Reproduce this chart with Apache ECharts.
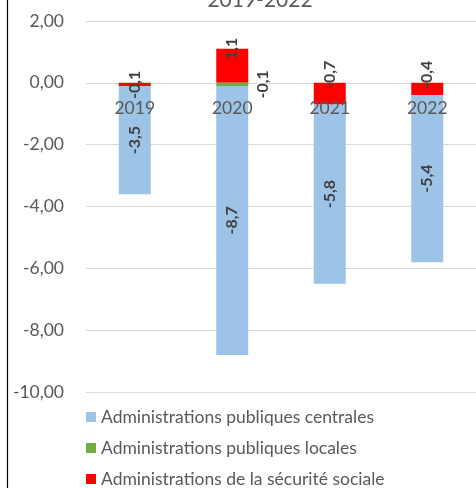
<!DOCTYPE html>
<html>
<head>
<meta charset="utf-8">
<script src="https://cdn.jsdelivr.net/npm/echarts@6/dist/echarts.min.js"></script>
<style>
html,body{margin:0;padding:0;background:#fff;}
#chart{width:476px;height:488px;}
</style>
</head>
<body>
<div id="chart"></div>
<script>
var title = '2019-2022';
var categories = ['2019', '2020', '2021', '2022'];
var seriesNames = ['Administrations publiques centrales', 'Administrations publiques locales', 'Administrations de la sécurité sociale'];
var centrales = [-3.5, -8.7, -5.8, -5.4];
var locales = [null, -0.1, null, null];
var securite = [-0.1, 1.1, -0.7, -0.4];
var yTicks = [-10, -8, -6, -4, -2, 0, 2];

var FONT = 'Lato, "Open Sans", sans-serif';
function fmt(v){ return v.toFixed(1).replace('.', ','); }

var GRID_TOP = 21, GRID_H = 371;
var yMin = yTicks[0], yMax = yTicks[yTicks.length-1];
// distance from grid bottom up to the zero line, so category labels sit under the zero line
var zeroFromBottom = GRID_H * (0 - yMin) / (yMax - yMin);

var chart = echarts.init(document.getElementById('chart'), null, {renderer:'canvas'});

var redDistance = [-2, 0, 8, 8];
var securiteData = securite.map(function(v, i){
  return {value: v, label: {distance: redDistance[i]}};
});

var labelBase = {fontFamily: FONT, fontSize: 16, fontWeight: 'bold', color: '#404040'};

var option = {
  animation: false,
  backgroundColor: '#fff',
  title: {
    text: title, left: 255, top: -15, textAlign: 'center',
    textStyle: {fontFamily: FONT, fontSize: 21, fontWeight: 'normal', color: '#595959'}
  },
  graphic: [{
    type: 'line', shape: {x1: 7.5, y1: 0, x2: 7.5, y2: 488},
    style: {stroke: '#000', lineWidth: 1.2}, z: 100
  }],
  legend: {
    orient: 'vertical', left: 86, top: 408, height: 150, padding: 0,
    itemWidth: 10, itemHeight: 10, itemGap: 13,
    icon: 'rect',
    data: seriesNames,
    textStyle: {fontFamily: FONT, fontSize: 17.5, color: '#595959', lineHeight: 18}
  },
  grid: {left: 86, top: GRID_TOP, width: 395, height: GRID_H, containLabel: false},
  xAxis: {
    type: 'category', data: categories, z: 10,
    axisLine: {show: false},
    axisTick: {show: false},
    axisLabel: {fontFamily: FONT, fontSize: 17.5, color: '#595959', margin: -(zeroFromBottom - 17)}
  },
  yAxis: {
    type: 'value', min: yMin, max: yMax, interval: 2,
    axisLine: {show: false}, axisTick: {show: false},
    axisLabel: {fontFamily: FONT, fontSize: 17.5, color: '#595959', margin: 22,
      formatter: function(v){ return v.toFixed(2).replace('.', ','); }},
    splitLine: {lineStyle: {color: '#D9D9D9', width: 1}}
  },
  series: [
    {
      name: seriesNames[2], type: 'bar', stack: 'total', barWidth: 32,
      itemStyle: {color: '#FF0000'},
      label: Object.assign({show: true, position: 'top', rotate: 90, align: 'center', verticalAlign: 'middle',
        formatter: function(p){ return fmt(p.value); }}, labelBase),
      data: securiteData
    },
    {
      name: seriesNames[1], type: 'bar', stack: 'total', barWidth: 32,
      itemStyle: {color: '#70AD47'},
      label: Object.assign({show: true, position: 'right', rotate: 90, align: 'center', verticalAlign: 'middle', distance: 15,
        formatter: function(p){ return p.value == null ? '' : fmt(p.value); }}, labelBase),
      data: locales
    },
    {
      name: seriesNames[0], type: 'bar', stack: 'total', barWidth: 32,
      itemStyle: {color: '#9DC3E6'},
      label: Object.assign({show: true, position: 'inside', rotate: 90, align: 'center', verticalAlign: 'middle',
        formatter: function(p){ return fmt(p.value); }}, labelBase),
      data: centrales
    }
  ]
};
chart.setOption(option);
</script>
</body>
</html>
